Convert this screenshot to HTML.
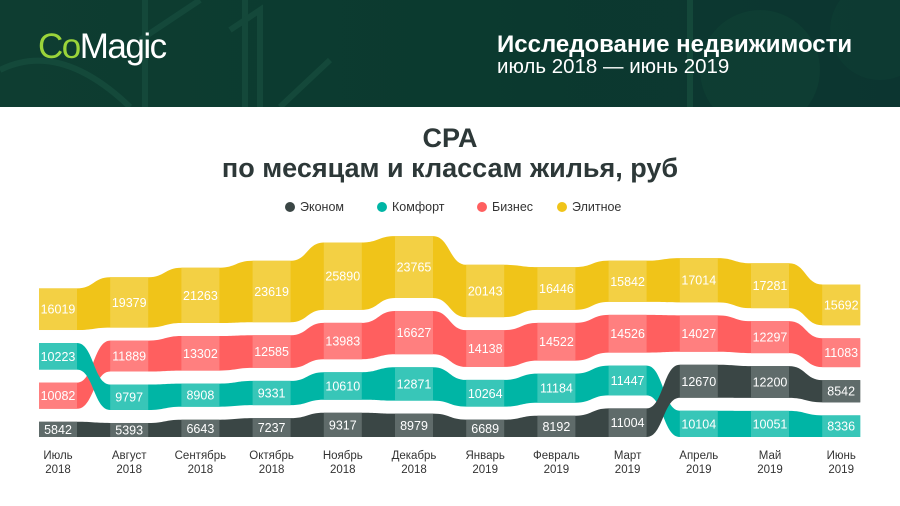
<!DOCTYPE html>
<html><head><meta charset="utf-8">
<style>
body{margin:0;width:900px;height:506px;overflow:hidden;background:#fff;font-family:"Liberation Sans",sans-serif;}
#hdr{position:absolute;left:0;top:0;width:900px;height:107px;background:linear-gradient(90deg,#0e3d31,#0b3a2f 50%,#0c3530);overflow:hidden;}
</style></head><body>
<div id="hdr">
<svg width="900" height="107" style="position:absolute;left:0;top:0">
<g fill="none" stroke="#164c3d" stroke-width="6" opacity="0.8">
<path d="M145 0 L145 107"/><path d="M245 0 L245 107"/><path d="M140 40 L200 0"/>
<path d="M230 30 L260 10 L260 107"/><path d="M0 70 Q60 40 130 107"/>
<path d="M690 0 L690 107"/><path d="M280 107 L330 60"/>
</g>
<circle cx="760" cy="70" r="60" fill="#0f4436" opacity="0.5"/>
<circle cx="880" cy="30" r="50" fill="#0f4436" opacity="0.4"/>
</svg>
<div style="position:absolute;left:38px;top:27px;font-size:35px;letter-spacing:-1.5px;color:#fff;"><span style="color:#9bd43a">Co</span>Magic</div>
<div style="position:absolute;left:497px;top:31px;font-size:24px;font-weight:bold;color:#fff;white-space:nowrap;">Исследование недвижимости</div>
<div style="position:absolute;left:497px;top:55px;font-size:20.5px;color:#fff;white-space:nowrap;">июль 2018 — июнь 2019</div>
</div>
<div style="position:absolute;left:0;top:123px;width:900px;text-align:center;font-size:27px;font-weight:bold;color:#2d3838;line-height:30px;">CPA<br>по месяцам и классам жилья, руб</div>
<svg id="chart" width="900" height="506" style="position:absolute;left:0;top:0"></svg>
<script>
const months=["Июль","Август","Сентябрь","Октябрь","Ноябрь","Декабрь","Январь","Февраль","Март","Апрель","Май","Июнь"];
const years=["2018","2018","2018","2018","2018","2018","2019","2019","2019","2019","2019","2019"];
const seriesNames=["Эконом","Комфорт","Бизнес","Элитное"];
const econom=[5842,5393,6643,7237,9317,8979,6689,8192,11004,12670,12200,8542];
const komfort=[10223,9797,8908,9331,10610,12871,10264,11184,11447,10104,10051,8336];
const biznes=[10082,11889,13302,12585,13983,16627,14138,14522,14526,14027,12297,11083];
const elite=[16019,19379,21263,23619,25890,23765,20143,16446,15842,17014,17281,15692];
const series=[econom,komfort,biznes,elite];
const dark=["#3a4645","#00b5a5","#ff5f5f","#f0c419"];
const light=["#5f6b6a","#38c6b8","#ff7f7f","#f3d044"];
const svg=document.getElementById('chart');
const NS="http://www.w3.org/2000/svg";
const base=437, k=0.0026, gap=13, colW=38;
function xOf(i){return 58+i*71.2;}
function hOf(v){return v*k;}
const pos=series.map(()=>[]);
for(let i=0;i<months.length;i++){
  const idx=[0,1,2,3].sort((a,b)=>series[a][i]-series[b][i]);
  let y=base;
  idx.forEach(s=>{const h=hOf(series[s][i]);pos[s][i]={top:y-h,bot:y};y=y-h-gap;});
}
const lg=[{x:290,t:"Эконом"},{x:382,t:"Комфорт"},{x:482,t:"Бизнес"},{x:562,t:"Элитное"}];
lg.forEach((l,s)=>{
  const c=document.createElementNS(NS,'circle');
  c.setAttribute('cx',l.x);c.setAttribute('cy',207);c.setAttribute('r',5);c.setAttribute('fill',dark[s]);
  
  
  svg.appendChild(c);
  const t=document.createElementNS(NS,'text');
  t.setAttribute('x',l.x+10);t.setAttribute('y',211);t.setAttribute('font-size',12.5);t.setAttribute('fill','#333');
  t.textContent=seriesNames[s];
  
  
  svg.appendChild(t);
});
[3,2,1,0].forEach(s=>{
  const n=months.length;
  let top="M"+(xOf(0)-colW/2)+" "+pos[s][0].top;
  for(let i=0;i<n;i++){
    const xr=xOf(i)+colW/2;
    top+=" L"+xr+" "+pos[s][i].top;
    if(i<n-1){const nx=xOf(i+1)-colW/2,m=(xr+nx)/2;
      top+=" C"+m+" "+pos[s][i].top+" "+m+" "+pos[s][i+1].top+" "+nx+" "+pos[s][i+1].top;}
  }
  let bot=" L"+(xOf(n-1)+colW/2)+" "+pos[s][n-1].bot;
  for(let i=n-1;i>=0;i--){
    const xl=xOf(i)-colW/2;
    bot+=" L"+xl+" "+pos[s][i].bot;
    if(i>0){const px=xOf(i-1)+colW/2,m=(xl+px)/2;
      bot+=" C"+m+" "+pos[s][i].bot+" "+m+" "+pos[s][i-1].bot+" "+px+" "+pos[s][i-1].bot;}
  }
  const p=document.createElementNS(NS,'path');
  p.setAttribute('d',top+bot+" Z");p.setAttribute('fill',dark[s]);
  
  
  svg.appendChild(p);
});
for(let s=0;s<4;s++){
  for(let i=0;i<months.length;i++){
    const r=document.createElementNS(NS,'rect');
    r.setAttribute('x',xOf(i)-colW/2);r.setAttribute('y',pos[s][i].top);
    r.setAttribute('width',colW);r.setAttribute('height',pos[s][i].bot-pos[s][i].top);
    r.setAttribute('fill',light[s]);
    
    
    svg.appendChild(r);
    const t=document.createElementNS(NS,'text');
    t.setAttribute('x',xOf(i));t.setAttribute('y',(pos[s][i].top+pos[s][i].bot)/2+4.5);
    t.setAttribute('text-anchor','middle');t.setAttribute('font-size',12.5);t.setAttribute('fill','#fff');
    t.textContent=series[s][i];
    
    
    svg.appendChild(t);
  }
}
for(let i=0;i<months.length;i++){
  [months[i],years[i]].forEach((txt,j)=>{
    const t=document.createElementNS(NS,'text');
    t.setAttribute('x',xOf(i));t.setAttribute('y',459+j*14);
    t.setAttribute('text-anchor','middle');t.setAttribute('font-size',11.5);t.setAttribute('fill','#333');
    t.textContent=txt;
    
    
    svg.appendChild(t);
  });
}
</script>
</body></html>
